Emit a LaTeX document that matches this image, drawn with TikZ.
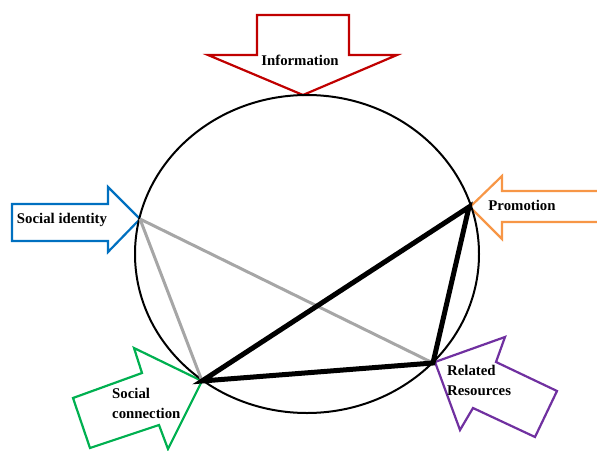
\documentclass[tikz,border=0pt]{standalone}
\usepackage{fontspec}
\setmainfont{Liberation Serif}
\usetikzlibrary{shapes.geometric}
\definecolor{cred}{HTML}{C00000}
\definecolor{cblue}{HTML}{0070C0}
\definecolor{corange}{HTML}{F79646}
\definecolor{cgreen}{HTML}{00B050}
\definecolor{cpurple}{HTML}{7030A0}
\definecolor{cgray}{HTML}{A6A6A6}
\tikzset{
  bigarrow/.style={line width=2.2pt, fill=white, line join=miter},
  lbl/.style={font=\fontsize{14.8}{20}\selectfont\bfseries, inner sep=0pt},
  thin/.style={cgray, line width=3pt},
  thick/.style={black, line width=5pt, line cap=round, line join=miter},
}
\begin{document}
\begin{tikzpicture}[x=1pt,y=-1pt]
\useasboundingbox (0,0) rectangle (597,450);
% arrows
\draw[bigarrow, draw=cred] (257,15) -- (349,15) -- (349,55) -- (397,55) -- (303,95) -- (208,55) -- (257,55) -- cycle;
\draw[bigarrow, draw=cblue] (12,204) -- (108,204) -- (108,187) -- (140,219) -- (108,252) -- (108,241) -- (12,241) -- cycle;
\draw[bigarrow, draw=corange] (598,191) -- (502,191) -- (502,176) -- (470,207) -- (502,239) -- (502,222) -- (598,222);
\draw[bigarrow, draw=cgreen] (202,381) -- (168,449) -- (159,425) -- (90,448) -- (73,398) -- (142,373) -- (134,348) -- cycle;
\draw[bigarrow, draw=cpurple] (435,362) -- (505,337) -- (496,362) -- (557,391) -- (535,437) -- (473,408) -- (460,430) -- cycle;
% circle
\node[draw, ellipse, line width=2pt, minimum width=344pt, minimum height=318pt, inner sep=0pt] (circ) at (307,254) {};
\coordinate (SI) at (140,219);
\coordinate (PR) at (469,207);
\coordinate (SC) at (202,381);
\coordinate (RR) at (433,363);
\draw[thin] (SI) -- (SC);
\draw[thin] (SI) -- (RR);
\draw[thick] (SC) -- (PR) -- (RR) -- cycle;
% labels
\node[lbl] (info) at (300,60) {Information};
\node[lbl] (sid) at (62,220) {Social identity};
\node[lbl] (prom) at (522,205) {Promotion};
\node[lbl, align=left, anchor=west] (scon) at (112,403) {Social\\connection};
\node[lbl, align=left, anchor=west] (rres) at (447,380) {Related\\Resources};
\end{tikzpicture}
\end{document}
